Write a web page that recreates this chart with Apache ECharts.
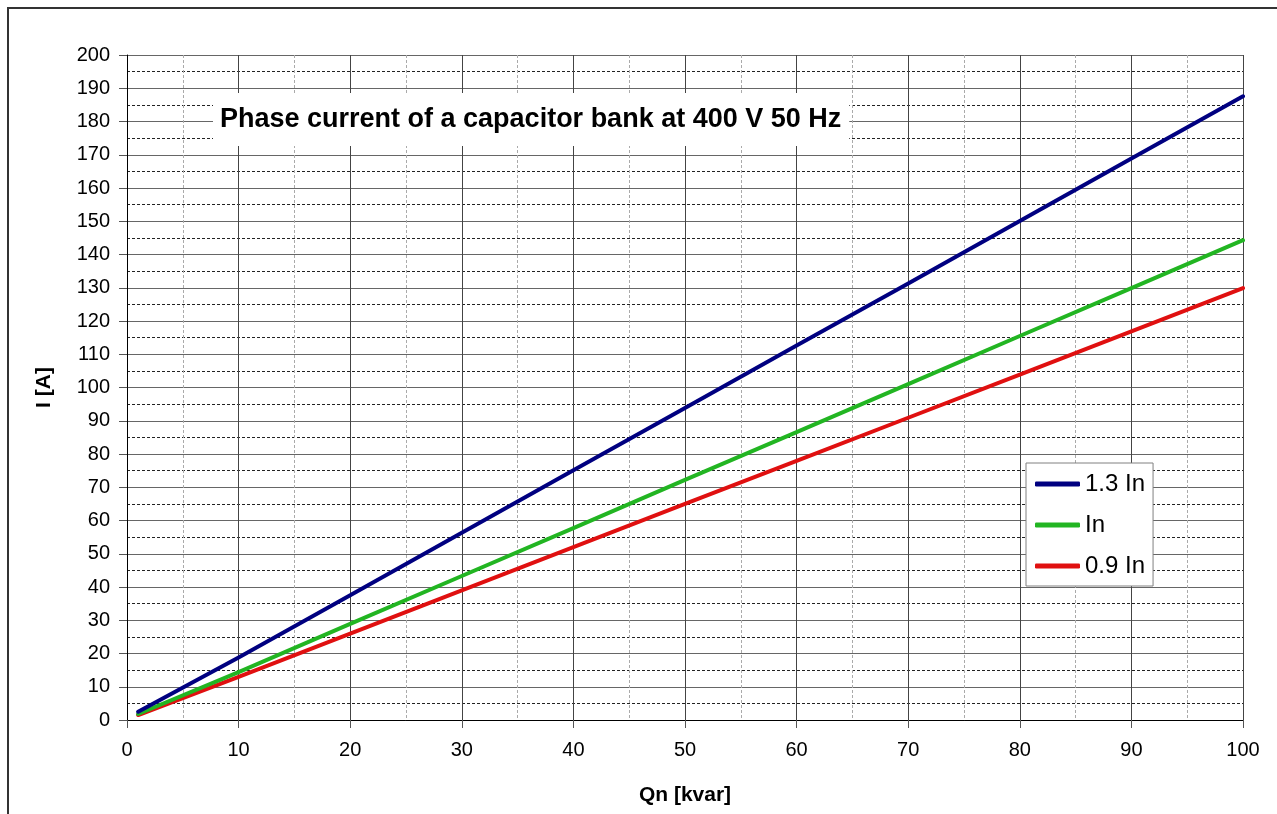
<!DOCTYPE html>
<html>
<head>
<meta charset="utf-8">
<script src="https://cdn.jsdelivr.net/npm/echarts@6/dist/echarts.min.js"></script>
<style>
html,body{margin:0;padding:0;background:#fff;}
#c{width:1277px;height:814px;}
</style>
</head>
<body>
<div id="c"></div>
<script>
const qn = [1, 10, 20, 30, 40, 50, 60, 70, 80, 90, 100];
const in13 = [2.5, 18.8, 37.5, 56.3, 75.1, 93.8, 112.6, 131.3, 150.1, 168.9, 187.6];
const inN  = [1.8, 14.4, 28.9, 43.3, 57.7, 72.2, 86.6, 101.0, 115.5, 129.9, 144.3];
const in09 = [1.5, 13.0, 26.0, 39.0, 52.0, 65.0, 77.9, 90.9, 103.9, 116.9, 129.9];
const seriesNames = ['1.3 In', 'In', '0.9 In'];
const titleText = 'Phase current of a capacitor bank at 400 V 50 Hz';
const xName = 'Qn [kvar]';
const yName = 'I [A]';

const pairs = arr => qn.map((q, i) => [q, arr[i]]);
const font = 'Liberation Sans, Arial, sans-serif';
const chart = echarts.init(document.getElementById('c'), null, {renderer: 'canvas'});
const colors = ['#000080', '#22b522', '#e01010'];

chart.setOption({
  animation: false,
  backgroundColor: '#fff',
  title: {
    text: titleText,
    left: 213, top: 93,
    padding: [13, 8, 13, 7],
    backgroundColor: '#fff',
    textStyle: {fontFamily: font, fontWeight: 'bold', fontSize: 27, color: '#000'}
  },
  graphic: [{
    type: 'rect', z: 100,
    shape: {x: 8, y: 8, width: 1400, height: 1000},
    style: {fill: 'none', stroke: '#333', lineWidth: 2}
  }],
  grid: {left: 127, right: 34, top: 55, bottom: 94, containLabel: false},
  legend: {
    orient: 'vertical',
    left: 1026, top: 463,
    padding: [9, 8, 8, 9],
    itemGap: 17,
    itemWidth: 45, itemHeight: 5,
    icon: 'roundRect',
    backgroundColor: '#fff',
    borderColor: '#808080', borderWidth: 1,
    textStyle: {fontFamily: font, fontSize: 24, color: '#000'},
    data: seriesNames
  },
  xAxis: {
    type: 'value', min: 0, max: 100, interval: 10,
    name: xName, nameLocation: 'middle', nameGap: 65,
    nameTextStyle: {fontFamily: font, fontWeight: 'bold', fontSize: 21, color: '#000'},
    axisLine: {show: true, lineStyle: {color: '#000', width: 1}},
    axisTick: {show: true, inside: false, length: 8, lineStyle: {color: '#555'}},
    axisLabel: {fontFamily: font, fontSize: 20, color: '#000', margin: 20},
    splitLine: {show: true, lineStyle: {color: '#444', width: 1}},
    minorTick: {show: false, splitNumber: 2},
    minorSplitLine: {show: true, lineStyle: {color: '#aaa', width: 1, type: [3, 2]}}
  },
  yAxis: {
    type: 'value', min: 0, max: 200, interval: 10,
    name: yName, nameLocation: 'middle', nameGap: 72, nameRotate: 90,
    nameTextStyle: {fontFamily: font, fontWeight: 'bold', fontSize: 21, color: '#000'},
    axisLine: {show: true, lineStyle: {color: '#000', width: 1}},
    axisTick: {show: true, inside: false, length: 8, lineStyle: {color: '#555'}},
    axisLabel: {fontFamily: font, fontSize: 20, color: '#000', margin: 17},
    splitLine: {show: true, lineStyle: {color: '#666', width: 1}},
    minorTick: {show: false, splitNumber: 2},
    minorSplitLine: {show: true, lineStyle: {color: '#222', width: 1, type: [3, 2]}}
  },
  series: [in13, inN, in09].map((arr, i) => ({
    name: seriesNames[i],
    type: 'line',
    data: pairs(arr),
    symbol: 'none',
    color: colors[i],
    lineStyle: {width: 4, color: colors[i], cap: 'round', join: 'round'},
    z: 10 - i
  }))
});
</script>
</body>
</html>
